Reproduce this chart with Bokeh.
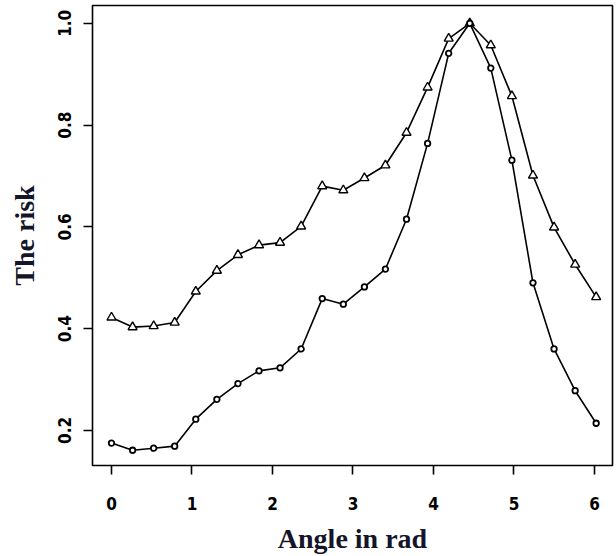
from bokeh.plotting import figure
from bokeh.models import FixedTicker, Range1d
from bokeh.embed import file_html
from bokeh.resources import INLINE

# Angles (rad) at which the risk was evaluated
angle = [0.000, 0.262, 0.524, 0.785, 1.047, 1.309, 1.571, 1.833, 2.094, 2.356,
         2.618, 2.880, 3.142, 3.403, 3.665, 3.927, 4.189, 4.451, 4.712, 4.974,
         5.236, 5.498, 5.760, 6.021]
# Upper series (triangles)
risk_tri = [0.422, 0.403, 0.405, 0.412, 0.473, 0.514, 0.545, 0.564, 0.569, 0.601,
            0.680, 0.672, 0.696, 0.721, 0.785, 0.874, 0.970, 1.000, 0.957, 0.857,
            0.701, 0.599, 0.526, 0.462]
# Lower series (circles)
risk_circ = [0.175, 0.161, 0.165, 0.169, 0.222, 0.261, 0.292, 0.317, 0.323, 0.360,
             0.459, 0.448, 0.482, 0.517, 0.615, 0.764, 0.941, 1.000, 0.912, 0.731,
             0.490, 0.360, 0.278, 0.214]

x_ticks = [0, 1, 2, 3, 4, 5, 6]
y_ticks = [0.2, 0.4, 0.6, 0.8, 1.0]
y_tick_labels = {0.2: "0.2", 0.4: "0.4", 0.6: "0.6", 0.8: "0.8", 1.0: "1.0"}

p = figure(width=616, height=556, output_backend="svg", toolbar_location=None,
           x_range=Range1d(-0.236, 6.224), y_range=Range1d(0.131, 1.035),
           min_border_left=92, min_border_right=4, min_border_top=5, min_border_bottom=86)

p.background_fill_color = "white"
p.border_fill_color = "white"
p.outline_line_color = "black"
p.outline_line_width = 1.6
p.xgrid.visible = False
p.ygrid.visible = False

tick_font = "'DejaVu Sans Condensed', 'Liberation Sans', sans-serif"
for ax in (p.xaxis[0], p.yaxis[0]):
    ax.axis_line_color = None
    ax.major_tick_in = 0
    ax.major_tick_out = 9
    ax.major_tick_line_width = 1.6
    ax.minor_tick_line_color = None
    ax.major_label_text_font = tick_font
    ax.major_label_text_font_style = "bold"
    ax.major_label_text_font_size = "17px"
    ax.major_label_text_color = "black"
    ax.axis_label_text_font = "Liberation Serif"
    ax.axis_label_text_font_style = "bold"
    ax.axis_label_text_font_size = "28px"
    ax.axis_label_text_color = "#14142a"

p.xaxis.ticker = FixedTicker(ticks=x_ticks)
p.yaxis.ticker = FixedTicker(ticks=y_ticks)
p.yaxis.major_label_overrides = y_tick_labels
p.yaxis.major_label_orientation = "vertical"
p.xaxis.major_label_standoff = 22
p.yaxis.major_label_standoff = 12
p.xaxis.axis_label = "Angle in rad"
p.yaxis.axis_label = "The risk"
p.xaxis.axis_label_standoff = 10
p.yaxis.axis_label_standoff = 16

p.line(angle, risk_tri, line_color="black", line_width=1.6)
p.scatter(angle, risk_tri, marker="triangle", size=9, fill_color="white",
          line_color="black", line_width=1.4)
p.line(angle, risk_circ, line_color="black", line_width=1.6)
p.scatter(angle, risk_circ, marker="circle", size=5.5, fill_color="white",
          line_color="black", line_width=1.8)

open("out.html", "w").write(file_html(p, INLINE))
